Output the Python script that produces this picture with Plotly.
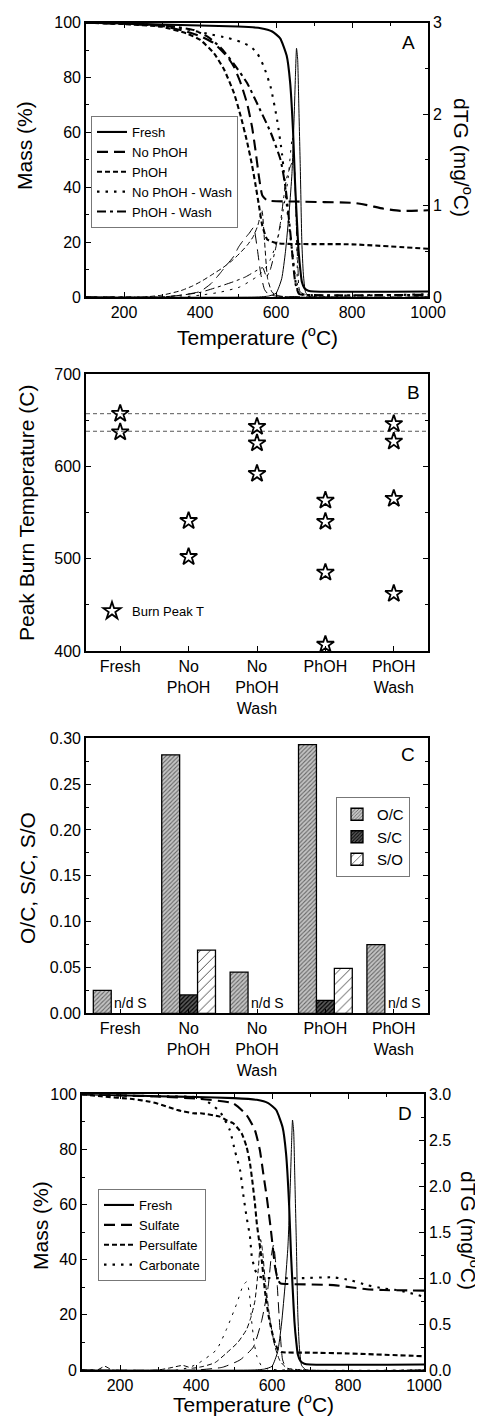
import plotly.graph_objects as go

FONT = "Liberation Sans, Arial, sans-serif"
W, H = 483, 1418
OFF = 8  # page body margin offset

# ---------------- Panel A : TGA (mass) and dTG ----------------
a_fresh_T = [100, 200, 300, 400, 500, 560, 590, 611, 628, 637, 645, 650, 655, 659, 664, 668, 675, 685, 700, 1000]
a_fresh_m = [100, 99.7, 99.3, 99.0, 98.6, 98.0, 96.8, 94.3, 88, 78.5, 60, 42, 28, 17.7, 10, 5.6, 3.2, 2.3, 2.0, 2.0]
a_fresh_dT = [100, 550, 580, 600, 615, 625, 635, 642, 648, 651, 654, 657, 660, 664, 668, 672, 678, 690, 1000]
a_fresh_d = [0, 0, 0.01, 0.04, 0.2, 0.5, 0.95, 1.35, 2.0, 2.4, 2.72, 2.6, 2.1, 1.4, 0.6, 0.25, 0.05, 0, 0]

a_noph_T = [100, 200, 300, 366, 402, 437, 472, 489, 507, 524, 537, 546, 555, 564, 577, 650, 805, 840, 883, 927, 1000]
a_noph_m = [100, 99.6, 98.8, 96.7, 95, 92.5, 87.6, 84, 78, 70.5, 62, 53.5, 44, 37, 35.2, 34.8, 34.3, 33.5, 32.2, 31.4, 31.6]
a_noph_dT = [100, 300, 350, 400, 430, 453, 470, 488, 502, 514, 530, 541, 550, 560, 570, 580, 600, 1000]
a_noph_d = [0, 0, 0.02, 0.06, 0.15, 0.26, 0.35, 0.44, 0.55, 0.62, 0.7, 0.76, 0.55, 0.25, 0.08, 0.03, 0.01, 0]

a_ph_T = [100, 200, 300, 366, 401, 437, 463, 489, 507, 524, 537, 546, 555, 564, 577, 603, 800, 1000]
a_ph_m = [100, 99.5, 98.5, 96, 93.7, 88.8, 83, 74.5, 66, 56.5, 48, 41, 33.5, 26, 21, 19.6, 19.2, 17.6]
a_ph_dT = [100, 250, 300, 350, 380, 407, 430, 460, 485, 505, 525, 540, 552, 563, 570, 578, 590, 610, 1000]
a_ph_d = [0, 0, 0.02, 0.07, 0.12, 0.18, 0.24, 0.32, 0.40, 0.48, 0.57, 0.66, 0.78, 0.95, 0.6, 0.2, 0.05, 0.01, 0]

a_nophw_T = [100, 200, 300, 366, 419, 472, 507, 533, 550, 568, 586, 603, 616, 629, 643, 654, 664, 1000]
a_nophw_m = [100, 99.6, 99, 97.6, 96, 94.5, 93, 91.3, 89, 84, 76.5, 64.5, 52, 33, 16, 3.6, 1.2, 1.0]
a_nophw_dT = [100, 350, 400, 450, 505, 549, 570, 584, 592, 606, 619, 625, 632, 643, 650, 656, 662, 1000]
a_nophw_d = [0, 0, 0.02, 0.05, 0.11, 0.22, 0.3, 0.4, 0.48, 0.66, 0.95, 1.1, 1.3, 1.75, 1.3, 0.4, 0.05, 0]

a_phw_T = [100, 200, 300, 350, 384, 419, 454, 489, 524, 559, 586, 612, 625, 638, 651, 660, 670, 1000]
a_phw_m = [100, 99.7, 99, 98.2, 97.3, 95, 91, 85, 78, 68, 60, 50, 40, 23, 5, 1.2, 0.8, 0.8]
a_phw_dT = [100, 300, 350, 400, 440, 462, 490, 520, 545, 565, 575, 585, 600, 612, 620, 628, 637, 646, 652, 658, 665, 1000]
a_phw_d = [0, 0, 0.02, 0.05, 0.1, 0.13, 0.17, 0.22, 0.28, 0.32, 0.22, 0.3, 0.55, 0.82, 1.08, 1.3, 1.42, 1.5, 1.0, 0.3, 0.05, 0]

# ---------------- Panel B : peak burn temperatures ----------------
b_categories = ["Fresh", "No<br>PhOH", "No<br>PhOH<br>Wash", "PhOH", "PhOH<br>Wash"]
b_peaks = [
    [657, 637],
    [541, 502],
    [643, 625, 592],
    [563, 540, 485, 407],
    [646, 627, 565, 462],
]
b_ref_lines = [657, 638]

# ---------------- Panel C : atomic ratios ----------------
c_categories = ["Fresh", "No<br>PhOH", "No<br>PhOH<br>Wash", "PhOH", "PhOH<br>Wash"]
c_oc = [0.025, 0.282, 0.045, 0.293, 0.075]
c_sc = [None, 0.020, None, 0.014, None]
c_so = [None, 0.069, None, 0.049, None]
c_nd_text = "n/d S"

# ---------------- Panel D : TGA (mass) and dTG ----------------
d_sul_T = [100, 200, 300, 412, 498, 533, 555, 568, 577, 586, 595, 602, 608, 615, 622, 639, 762, 806, 849, 893, 1000]
d_sul_m = [100, 99.6, 99.2, 98.3, 96.7, 92.5, 87, 79.8, 71.3, 62.9, 53.2, 44.7, 37.5, 33, 31.4, 31.2, 30.8, 30, 29.3, 29, 28.8]
d_sul_dT = [100, 400, 470, 516, 551, 573, 590, 599, 604, 609, 614, 621, 628, 640, 1000]
d_sul_d = [0, 0, 0.03, 0.11, 0.25, 0.54, 0.91, 1.27, 1.36, 1.2, 0.91, 0.44, 0.11, 0.01, 0]

d_per_T = [100, 150, 237, 279, 298, 351, 393, 412, 463, 481, 498, 520, 533, 542, 549, 555, 560, 567, 573, 582, 592, 605, 615, 625, 700, 800, 1000]
d_per_m = [100, 99.3, 98.2, 97.3, 96.7, 94.3, 93.1, 93.1, 91.9, 90.5, 89.5, 85.9, 81, 75, 67.7, 60.5, 53.2, 46, 39.9, 28, 19, 11, 7.5, 6.5, 6.3, 6.0, 5.0]
d_per_dT = [100, 140, 160, 180, 300, 340, 365, 390, 420, 450, 479, 510, 533, 545, 555, 564, 570, 575, 582, 595, 608, 621, 640, 1000]
d_per_d = [0, 0, 0.04, 0, 0, 0.03, 0.05, 0.02, 0.04, 0.08, 0.18, 0.3, 0.44, 0.58, 0.75, 1.1, 1.42, 1.3, 0.98, 0.54, 0.25, 0.1, 0.02, 0]

d_car_T = [100, 200, 300, 412, 437, 463, 489, 503, 516, 524, 533, 542, 547, 555, 565, 587, 674, 762, 806, 849, 893, 937, 1000]
d_car_m = [100, 99.6, 99.3, 98.8, 96.7, 93.7, 87, 79.2, 72.5, 64, 55.6, 48.4, 41, 36.5, 33.9, 33.4, 33.3, 33.6, 32.6, 30.8, 29.6, 28.8, 26.6]
d_car_dT = [100, 350, 384, 409, 454, 481, 507, 524, 533, 540, 546, 553, 560, 573, 590, 1000]
d_car_d = [0, 0, 0.03, 0.08, 0.22, 0.45, 0.72, 0.92, 0.96, 0.85, 0.55, 0.3, 0.15, 0.04, 0.01, 0]

# ---------------- figure ----------------
fig = go.Figure()

DASH_LONG = "11px,6px"
DASH_SHORT = "5px,3px"
DASH_DOT = "2.5px,6px"
DASH_DASHDOT = "9px,4px,3px,4px"

def line_pair(T, m, dT, d, name, dash, xa, ya, ya2, legend):
    fig.add_trace(go.Scatter(x=T, y=m, mode="lines", name=name, legend=legend,
                             line=dict(color="black", width=2.1, dash=dash, shape="spline", smoothing=0.5),
                             xaxis=xa, yaxis=ya))
    fig.add_trace(go.Scatter(x=dT, y=d, mode="lines", name=name + " dTG", showlegend=False,
                             line=dict(color="black", width=1.0, dash=dash, shape="spline", smoothing=0.5),
                             xaxis=xa, yaxis=ya2))

line_pair(a_fresh_T, a_fresh_m, a_fresh_dT, a_fresh_d, "Fresh", "solid", "x", "y", "y2", "legend")
line_pair(a_noph_T, a_noph_m, a_noph_dT, a_noph_d, "No PhOH", DASH_LONG, "x", "y", "y2", "legend")
line_pair(a_ph_T, a_ph_m, a_ph_dT, a_ph_d, "PhOH", DASH_SHORT, "x", "y", "y2", "legend")
line_pair(a_nophw_T, a_nophw_m, a_nophw_dT, a_nophw_d, "No PhOH - Wash", DASH_DOT, "x", "y", "y2", "legend")
line_pair(a_phw_T, a_phw_m, a_phw_dT, a_phw_d, "PhOH - Wash", DASH_DASHDOT, "x", "y", "y2", "legend")

# Panel B
bx, by = [], []
for i, vals in enumerate(b_peaks):
    for v in vals:
        bx.append(i)
        by.append(v)
for v in b_ref_lines:
    fig.add_trace(go.Scatter(x=[-0.5, 4.5], y=[v, v], mode="lines", showlegend=False,
                             line=dict(color="#444", width=0.9, dash="4px,3px"),
                             xaxis="x2", yaxis="y3"))
fig.add_trace(go.Scatter(x=bx, y=by, mode="markers", name="Burn Peak T", legend="legend2",
                         marker=dict(symbol="star-open", size=13, color="black", line=dict(width=1.8, color="black")),
                         xaxis="x2", yaxis="y3"))

# Panel C
cx = list(range(len(c_categories)))
fig.add_trace(go.Bar(x=cx, y=c_oc, name="O/C", legend="legend3", xaxis="x3", yaxis="y4",
                     marker=dict(color="#b4b4b4", line=dict(color="black", width=1.3),
                                 pattern=dict(shape="/", fgcolor="#666666", bgcolor="#c4c4c4", size=3, solidity=0.35))))
fig.add_trace(go.Bar(x=cx, y=c_sc, name="S/C", legend="legend3", xaxis="x3", yaxis="y4",
                     marker=dict(color="#333333", line=dict(color="black", width=1.3),
                                 pattern=dict(shape="/", fgcolor="#000000", bgcolor="#5a5a5a", size=3, solidity=0.4))))
fig.add_trace(go.Bar(x=cx, y=c_so, name="S/O", legend="legend3", xaxis="x3", yaxis="y4",
                     marker=dict(color="white", line=dict(color="black", width=1.3),
                                 pattern=dict(shape="/", fgcolor="#333333", bgcolor="white", size=7, solidity=0.12))))

# Panel D
line_pair(a_fresh_T, a_fresh_m, a_fresh_dT, a_fresh_d, "Fresh", "solid", "x4", "y5", "y6", "legend4")
line_pair(d_sul_T, d_sul_m, d_sul_dT, d_sul_d, "Sulfate", DASH_LONG, "x4", "y5", "y6", "legend4")
line_pair(d_per_T, d_per_m, d_per_dT, d_per_d, "Persulfate", DASH_SHORT, "x4", "y5", "y6", "legend4")
line_pair(d_car_T, d_car_m, d_car_dT, d_car_d, "Carbonate", DASH_DOT, "x4", "y5", "y6", "legend4")

# ---------------- axes ----------------
def px_x(p):
    return (p - OFF) / W

def px_y(p):
    return 1 - (p - OFF) / H

TICKF = dict(family=FONT, size=16, color="black")
base = dict(showline=True, linecolor="black", linewidth=1.6, ticks="inside", ticklen=5, tickwidth=1.3,
            tickcolor="black", showgrid=False, zeroline=False, tickfont=TICKF, automargin=False)

def minor(dt):
    return dict(dtick=dt, ticks="inside", ticklen=3, tickwidth=1.2, tickcolor="black", showgrid=False)

domA_x = [px_x(86), px_x(428)]
domD_x = [px_x(82), px_x(424)]
domA_y = [px_y(297), px_y(22.7)]
domB_y = [px_y(651), px_y(374)]
domC_y = [px_y(1013.3), px_y(738.3)]
domD_y = [px_y(1370), px_y(1094.3)]

fig.update_layout(
    xaxis=dict(base, domain=domA_x, range=[100, 1000], tick0=200, dtick=200, mirror="ticks",
               minor=minor(100), anchor="y"),
    yaxis=dict(base, domain=domA_y, range=[0, 100], dtick=20, mirror=True, minor=minor(10), anchor="x"),
    yaxis2=dict(base, overlaying="y", side="right", range=[0, 3], dtick=1, minor=minor(0.5), anchor="x"),
    xaxis2=dict(base, domain=domA_x, range=[-0.5, 4.5], tickvals=list(range(5)), ticktext=b_categories,
                mirror=True, anchor="y3"),
    yaxis3=dict(base, domain=domB_y, range=[400, 700], dtick=100, mirror="ticks", minor=minor(50), anchor="x2"),
    xaxis3=dict(base, domain=domA_x, range=[-0.5, 4.5], tickvals=cx, ticktext=c_categories,
                mirror=True, anchor="y4"),
    yaxis4=dict(base, domain=domC_y, range=[0, 0.30], dtick=0.05, tickformat=".2f", mirror="ticks",
                minor=minor(0.025), anchor="x3"),
    xaxis4=dict(base, domain=domD_x, range=[100, 1000], tick0=200, dtick=200, mirror="ticks",
                minor=minor(100), anchor="y5"),
    yaxis5=dict(base, domain=domD_y, range=[0, 100], dtick=20, mirror=True, minor=minor(10), anchor="x4"),
    yaxis6=dict(base, overlaying="y5", side="right", range=[0, 3], dtick=0.5, tickformat=".1f",
                minor=minor(0.25), anchor="x4"),
    barmode="group", bargap=0.214, bargroupgap=0,
)

leg_common = dict(bgcolor="white", font=dict(family=FONT, size=13, color="black"),
                  xanchor="left", yanchor="top", tracegroupgap=0, itemwidth=30)
fig.update_layout(
    legend=dict(leg_common, x=px_x(91), y=px_y(116), bordercolor="#777", borderwidth=1),
    legend2=dict(leg_common, x=px_x(92), y=px_y(611), yanchor="middle", bgcolor="rgba(0,0,0,0)", borderwidth=0),
    legend3=dict(leg_common, x=px_x(336), y=px_y(797), bordercolor="#777", borderwidth=1,
                 font=dict(family=FONT, size=15, color="black")),
    legend4=dict(leg_common, x=px_x(98), y=px_y(1189), bordercolor="#777", borderwidth=1),
)

ann = []
def add_ann(text, x, y, angle=0, size=21, xref="paper", yref="paper", xanchor="center", yanchor="middle"):
    ann.append(dict(text=text, x=x, y=y, xref=xref, yref=yref, showarrow=False, textangle=angle,
                    font=dict(family=FONT, size=size, color="black"), xanchor=xanchor, yanchor=yanchor))

add_ann("Temperature (<sup>o</sup>C)", px_x(257), px_y(336))
add_ann("Mass (%)", px_x(25), px_y(146), angle=-90)
add_ann("dTG (mg/<sup>o</sup>C)", px_x(463), px_y(157), angle=90)
add_ann("Peak Burn Temperature (C)", px_x(26), px_y(513), angle=-90)
add_ann("O/C, S/C, S/O", px_x(27), px_y(878), angle=-90)
add_ann("Temperature (<sup>o</sup>C)", px_x(253), px_y(1403))
add_ann("Mass (%)", px_x(40), px_y(1226), angle=-90)
add_ann("dTG (mg/<sup>o</sup>C)", px_x(470), px_y(1230), angle=90)
add_ann("A", px_x(408), px_y(43), size=19)
add_ann("B", px_x(413), px_y(392), size=19)
add_ann("C", px_x(408), px_y(755), size=19)
add_ann("D", px_x(405), px_y(1113), size=19)
for i, v in enumerate(c_sc):
    if v is None:
        add_ann(c_nd_text, i + 0.15, 0.0115, size=14, xref="x3", yref="y4")

fig.update_layout(
    annotations=ann,
    width=W, height=H,
    margin=dict(l=0, r=0, t=0, b=0),
    template="none",
    plot_bgcolor="white", paper_bgcolor="white",
    font=dict(family=FONT, color="black"),
)

fig.write_html("out.html")
